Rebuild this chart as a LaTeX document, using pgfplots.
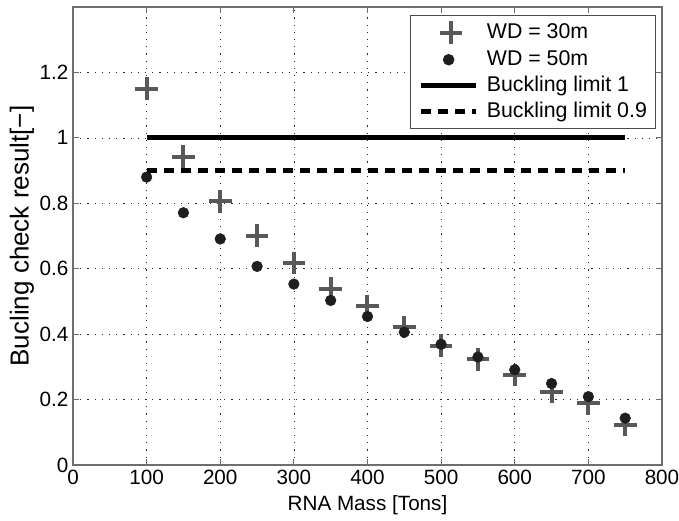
\documentclass[border=0pt]{standalone}
\usepackage{fontspec}
\setmainfont{Liberation Sans}
\usepackage{pgfplots}
\pgfplotsset{compat=1.18}
\definecolor{crossgray}{RGB}{88,88,88}
\definecolor{dotblack}{RGB}{30,30,30}
\definecolor{axgray}{RGB}{110,110,110}
\pgfplotsset{
  crosslegend/.style={legend image code/.code={\draw[mark repeat=2,mark phase=2,##1] plot coordinates {(0cm,0cm) (0.78cm,0cm) (1.45cm,0cm)};}},
  dotlegend/.style={legend image code/.code={\draw[mark repeat=2,mark phase=2,##1] plot coordinates {(0cm,0cm) (0.72cm,0cm) (1.45cm,0cm)};}},
  linelegend/.style={legend image code/.code={\draw[##1] (0cm,0cm) -- (1.45cm,0cm);}},
}
\begin{document}
\begin{tikzpicture}[trim left=-54.75pt, trim right=454.5pt]
\begin{axis}[
  scale only axis,
  width=441.75pt, height=343.5pt,
  xmin=0, xmax=800, ymin=0, ymax=1.4,
  xtick={0,100,...,800},
  ytick={0,0.2,0.4,0.6,0.8,1,1.2},
  /pgf/number format/assume math mode=true,
  tick label style={font=\fontsize{15.5}{18}\selectfont},
  xticklabel style={inner xsep=0pt},
  xlabel={RNA Mass [Tons]},
  ylabel={Bucling check result[\textminus]},
  xlabel style={font=\fontsize{15.5}{18}\selectfont, inner sep=0pt, at={(axis description cs:0.5,-0.0873)}, anchor=center},
  ylabel style={font=\fontsize{19.5}{22}\selectfont, inner sep=0pt, at={(axis description cs:-0.0866,0.5)}, anchor=center},
  tick align=inside,
  major tick length=4.5pt,
  every tick/.style={axgray, line width=0.6pt},
  axis line style={axgray, line width=0.8pt},
  grid=major,
  major grid style={black!85, line width=0.5pt, dash pattern=on 0.9pt off 4.5pt},
  legend style={at={(1,1)}, anchor=north east, xshift=-5pt, yshift=-6pt,
    font=\fontsize{16}{19}\selectfont, draw=black!70, line width=0.6pt,
    row sep=4pt, column sep=6pt, inner xsep=6pt, inner ysep=4.5pt,
    nodes={inner sep=0pt, text height=12pt, text depth=3.5pt}},
  legend cell align=left,
]
\addplot[only marks, mark=+, mark size=8.5pt, mark options={line width=3pt, color=crossgray}, crosslegend]
  coordinates {
  (100,1.150) (150,0.942) (200,0.806) (250,0.701) (300,0.617) (350,0.539)
  (400,0.486) (450,0.422) (500,0.365) (550,0.323) (600,0.275) (650,0.223)
  (700,0.189) (750,0.122)};
\addlegendentry{WD = 30m}
\addplot[only marks, mark=*, mark size=4pt, mark options={color=dotblack, fill=dotblack}, dotlegend]
  coordinates {
  (100,0.880) (150,0.771) (200,0.691) (250,0.607) (300,0.553) (350,0.503)
  (400,0.454) (450,0.406) (500,0.369) (550,0.330) (600,0.291) (650,0.249)
  (700,0.209) (750,0.143)};
\addlegendentry{WD = 50m}
\addplot[black, line width=3.75pt, line cap=butt, linelegend]
  coordinates {(100,1) (750,1)};
\addlegendentry{Buckling limit 1}
\addplot[black, line width=3.75pt, line cap=butt, dash pattern=on 7.5pt off 5.25pt, linelegend]
  coordinates {(100,0.9) (750,0.9)};
\addlegendentry{Buckling limit 0.9}
\end{axis}
\path ([shift={(-54.75pt,-42pt)}]current axis.south west) rectangle ([shift={(12.75pt,5.25pt)}]current axis.north east);
\end{tikzpicture}
\end{document}
